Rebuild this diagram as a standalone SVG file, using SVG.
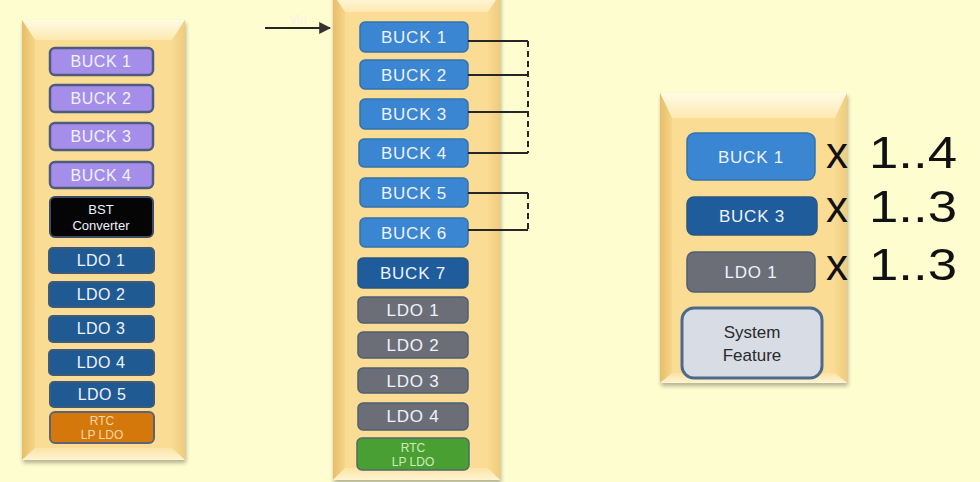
<svg xmlns="http://www.w3.org/2000/svg" width="980" height="482" viewBox="0 0 980 482">
<defs>
<linearGradient id="gTop" x1="0" y1="0" x2="0" y2="1"><stop offset="0" stop-color="#fffbe6"/><stop offset="1" stop-color="#fde9b0"/></linearGradient>
<linearGradient id="gLeft" x1="0" y1="0" x2="1" y2="0"><stop offset="0" stop-color="#e7bd68"/><stop offset="1" stop-color="#f6d589"/></linearGradient>
<linearGradient id="gRight" x1="0" y1="0" x2="1" y2="0"><stop offset="0" stop-color="#f8da92"/><stop offset="1" stop-color="#f0cc7c"/></linearGradient>
<linearGradient id="gBot" x1="0" y1="0" x2="0" y2="1"><stop offset="0" stop-color="#fbe3a6"/><stop offset="1" stop-color="#fff4d2"/></linearGradient>
<filter id="sh" x="-10%" y="-10%" width="130%" height="130%"><feGaussianBlur in="SourceAlpha" stdDeviation="2"/><feOffset dx="1" dy="3"/><feComponentTransfer><feFuncA type="linear" slope="0.3"/></feComponentTransfer><feMerge><feMergeNode/><feMergeNode in="SourceGraphic"/></feMerge></filter>
<marker id="arr" viewBox="0 0 10 10" refX="9" refY="5" markerWidth="6" markerHeight="6" orient="auto"><path d="M0,0 L10,5 L0,10 z" fill="#333"/></marker>
</defs>
<style>
text{font-family:"Liberation Sans",Arial,sans-serif;text-anchor:middle}
.face{fill:#fbdc94}
.t{fill:#eef3ff;font-size:16px;letter-spacing:0.5px}
.tm{fill:#eef3ff;font-size:17px;letter-spacing:0.8px}
.s{font-size:12px}
.pur{fill:#a58eea;stroke:#4d5c7c;stroke-width:2.5}
.blk{fill:#050505;stroke:#3b4a66;stroke-width:2}
.ldo{fill:#1f5a92;stroke:#3e5a78;stroke-width:2}
.org{fill:#d4780c;stroke:#5a6478;stroke-width:2}
.bl{fill:#3a86d2;stroke:#3571aa;stroke-width:1.5}
.db{fill:#1e5c9c;stroke:#2b5580;stroke-width:1.5}
.gr{fill:#6c6e77;stroke:#4e5f74;stroke-width:1.5}
.grn{fill:#4a9f32;stroke:#4e6a70;stroke-width:1.5}
.conn{fill:none;stroke:#262626;stroke-width:2}
.dash{fill:none;stroke:#262626;stroke-width:2;stroke-dasharray:6,4}
.big{font-size:44px;fill:#111;text-anchor:start}
</style>
<rect width="980" height="482" fill="#fefdcf"/>

<g id="panel-left" filter="url(#sh)">
<rect x="22" y="20" width="163" height="440" class="face"/>
<polygon points="22,20 185,20 172,40 35,40" fill="url(#gTop)"/>
<polygon points="22,20 35,40 35,448 22,460" fill="url(#gLeft)"/>
<polygon points="185,20 172,40 172,448 185,460" fill="url(#gRight)"/>
<polygon points="22,460 35,448 172,448 185,460" fill="url(#gBot)"/>
</g>
<g id="panel-mid" filter="url(#sh)">
<rect x="333" y="-6" width="167" height="486" class="face"/>
<polygon points="333,-6 500,-6 488,12 345,12" fill="url(#gTop)"/>
<polygon points="333,-6 345,12 345,468 333,480" fill="url(#gLeft)"/>
<polygon points="500,-6 488,12 488,468 500,480" fill="url(#gRight)"/>
<polygon points="333,480 345,468 488,468 500,480" fill="url(#gBot)"/>
</g>
<g id="panel-right" filter="url(#sh)">
<rect x="660" y="93" width="187" height="290" class="face"/>
<polygon points="660,93 847,93 835,118 672,118" fill="url(#gTop)"/>
<polygon points="660,93 672,118 672,373 660,383" fill="url(#gLeft)"/>
<polygon points="847,93 835,118 835,373 847,383" fill="url(#gRight)"/>
<polygon points="660,383 672,373 835,373 847,383" fill="url(#gBot)"/>
</g>

<g id="L-buck1"><rect x="50" y="48" width="103" height="27" rx="5" class="pur"/><text x="101" y="67" class="t">BUCK 1</text></g>
<g id="L-buck2"><rect x="50" y="85" width="103" height="27" rx="5" class="pur"/><text x="101" y="104" class="t">BUCK 2</text></g>
<g id="L-buck3"><rect x="50" y="123" width="103" height="27" rx="5" class="pur"/><text x="101" y="142" class="t">BUCK 3</text></g>
<g id="L-buck4"><rect x="50" y="162" width="103" height="26" rx="5" class="pur"/><text x="101" y="181" class="t">BUCK 4</text></g>
<g id="L-bst"><rect x="50" y="197" width="103" height="40" rx="5" class="blk"/><text x="101" y="214" style="font-size:13px;fill:#eef3ff">BST</text><text x="101" y="230" style="font-size:13px;fill:#eef3ff">Converter</text></g>
<g id="L-ldo1"><rect x="49" y="248" width="105" height="25" rx="4" class="ldo"/><text x="101" y="266" class="t">LDO 1</text></g>
<g id="L-ldo2"><rect x="49" y="282" width="105" height="25" rx="4" class="ldo"/><text x="101" y="300" class="t">LDO 2</text></g>
<g id="L-ldo3"><rect x="49" y="316" width="105" height="26" rx="4" class="ldo"/><text x="101" y="334" class="t">LDO 3</text></g>
<g id="L-ldo4"><rect x="49" y="350" width="105" height="25" rx="4" class="ldo"/><text x="101" y="368" class="t">LDO 4</text></g>
<g id="L-ldo5"><rect x="50" y="382" width="104" height="25" rx="4" class="ldo"/><text x="102" y="400" class="t">LDO 5</text></g>
<g id="L-rtc"><rect x="50" y="412" width="104" height="31" rx="5" class="org"/><text x="102" y="425" class="s" style="fill:#f6d7a8">RTC</text><text x="102" y="439" class="s" style="fill:#f6d7a8">LP LDO</text></g>

<g id="M-buck1"><rect x="360" y="22" width="108" height="30" rx="5" class="bl"/><text x="414" y="43" class="tm">BUCK 1</text></g>
<g id="M-buck2"><rect x="360" y="60" width="108" height="29" rx="5" class="bl"/><text x="414" y="81" class="tm">BUCK 2</text></g>
<g id="M-buck3"><rect x="360" y="99" width="108" height="30" rx="5" class="bl"/><text x="414" y="120" class="tm">BUCK 3</text></g>
<g id="M-buck4"><rect x="359" y="139" width="109" height="28" rx="5" class="bl"/><text x="414" y="159" class="tm">BUCK 4</text></g>
<g id="M-buck5"><rect x="360" y="178" width="108" height="29" rx="5" class="bl"/><text x="414" y="199" class="tm">BUCK 5</text></g>
<g id="M-buck6"><rect x="360" y="218" width="108" height="29" rx="5" class="bl"/><text x="414" y="239" class="tm">BUCK 6</text></g>
<g id="M-buck7"><rect x="358" y="258" width="110" height="30" rx="5" class="db"/><text x="413" y="279" class="tm">BUCK 7</text></g>
<g id="M-ldo1"><rect x="358" y="297" width="110" height="26" rx="5" class="gr"/><text x="413" y="316" class="tm">LDO 1</text></g>
<g id="M-ldo2"><rect x="358" y="332" width="110" height="26" rx="5" class="gr"/><text x="413" y="351" class="tm">LDO 2</text></g>
<g id="M-ldo3"><rect x="358" y="368" width="110" height="25" rx="5" class="gr"/><text x="413" y="387" class="tm">LDO 3</text></g>
<g id="M-ldo4"><rect x="358" y="403" width="110" height="27" rx="5" class="gr"/><text x="413" y="422" class="tm">LDO 4</text></g>
<g id="M-rtc"><rect x="357" y="438" width="112" height="32" rx="5" class="grn"/><text x="413" y="452" class="s" style="fill:#cdeeb8">RTC</text><text x="413" y="466" class="s" style="fill:#cdeeb8">LP LDO</text></g>

<g id="R-buck1"><rect x="687" y="133" width="128" height="47" rx="8" class="bl"/><text x="751" y="163" class="tm">BUCK 1</text></g>
<g id="R-buck3"><rect x="687" y="197" width="130" height="38" rx="7" class="db"/><text x="752" y="222" class="tm">BUCK 3</text></g>
<g id="R-ldo1"><rect x="687" y="252" width="128" height="40" rx="7" class="gr"/><text x="751" y="278" class="tm">LDO 1</text></g>
<g id="R-sys"><rect x="682" y="308" width="140" height="70" rx="12" fill="#d7dce5" stroke="#4d6a8a" stroke-width="3"/><text x="752" y="338" style="font-size:17px;fill:#2a2a2a">System</text><text x="752" y="361" style="font-size:17px;fill:#2a2a2a">Feature</text></g>

<g id="labels">
<text x="826" y="168" class="big">x</text><text x="869" y="168" class="big" textLength="88" lengthAdjust="spacingAndGlyphs">1..4</text>
<text x="826" y="222" class="big">x</text><text x="869" y="222" class="big" textLength="88" lengthAdjust="spacingAndGlyphs">1..3</text>
<text x="826" y="280" class="big">x</text><text x="869" y="280" class="big" textLength="88" lengthAdjust="spacingAndGlyphs">1..3</text>
<text x="298" y="24" style="font-size:12px;fill:#f4f4e8">Vin</text>
</g>

<g id="connectors">
<line x1="265" y1="28" x2="330" y2="28" class="conn" marker-end="url(#arr)"/>
<polyline points="468,41 528,41" class="conn"/>
<polyline points="468,75 528,75" class="conn"/>
<polyline points="468,112 528,112" class="conn"/>
<polyline points="468,153 528,153" class="conn"/>
<line x1="528" y1="41" x2="528" y2="153" class="dash"/>
<polyline points="468,193 528,193" class="conn"/>
<polyline points="468,230 528,230" class="conn"/>
<line x1="528" y1="193" x2="528" y2="230" class="dash"/>
</g>
</svg>
